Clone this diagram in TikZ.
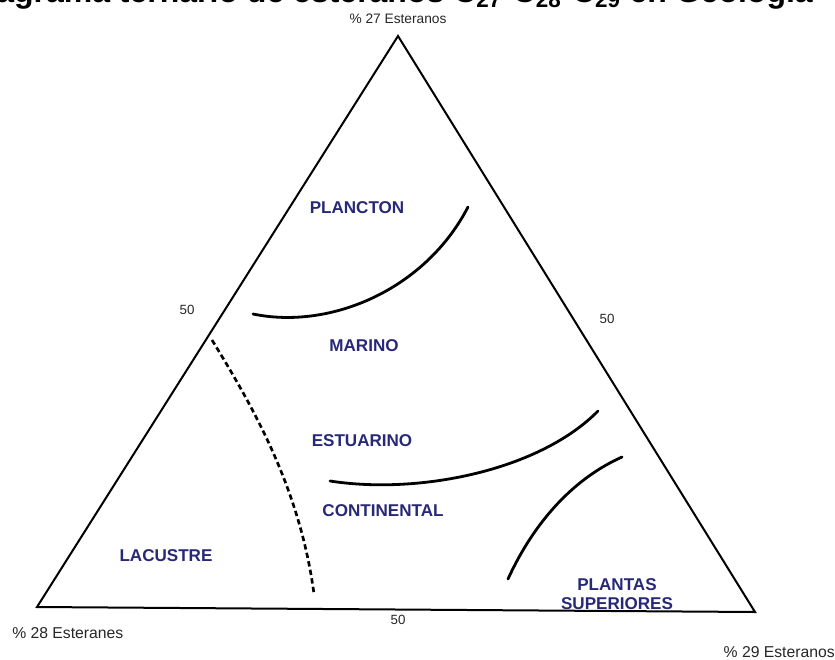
\documentclass[tikz,border=0pt]{standalone}
\usepackage{fontspec}
\setmainfont{Liberation Sans}
\definecolor{zonecol}{RGB}{40,40,120}
\begin{document}
\begin{tikzpicture}[x=0.75pt,y=-0.75pt,
  edge/.style={line width=1.5pt, line join=miter},
  bound/.style={line width=2.1pt, line cap=round},
  dashbound/.style={line width=2pt, dash pattern=on 4pt off 2.5pt},
  zone/.style={font=\bfseries\fontsize{12.8}{14}\selectfont, text=zonecol, align=center, inner sep=0pt},
  axis/.style={font=\fontsize{11.8}{13}\selectfont, text=black!85, inner sep=0pt},
  topaxis/.style={font=\fontsize{10.3}{12}\selectfont, text=black!85, inner sep=0pt},
  tick/.style={font=\fontsize{10}{11}\selectfont, text=black!85, inner sep=0pt}]
\useasboundingbox (0,0) rectangle (835,660);
\begin{scope}
\clip (0,0) rectangle (835,660);
\node[anchor=base west, inner sep=0pt, font=\bfseries\fontsize{24}{28}\selectfont] (title) at (-36,3) {Diagrama ternario de esteranos C\textsubscript{27}-C\textsubscript{28}-C\textsubscript{29} en Geología};
\end{scope}
% vertices
\coordinate (top) at (398,36);
\coordinate (bl) at (37,607);
\coordinate (br) at (755,612);
\draw[edge] (top) -- (bl) -- (br) -- cycle;
% axis labels
\node[topaxis] (c27) at (398,19) {\% 27 Esteranos};
\node[axis, anchor=west] (c28) at (12,633) {\% 28 Esteranes};
\node[axis, anchor=east] (c29) at (835,652) {\% 29 Esteranos};
\node[tick] (t1) at (187,310) {50};
\node[tick] (t2) at (607,319) {50};
\node[tick] (t3) at (398,620) {50};
% zone labels
\node[zone] (plancton) at (357,208) {PLANCTON};
\node[zone] (marino) at (364,346) {MARINO};
\node[zone] (estuarino) at (362,441) {ESTUARINO};
\node[zone] (continental) at (383,511) {CONTINENTAL};
\node[zone] (lacustre) at (166,556) {LACUSTRE};
\node[zone] (plantas) at (617,594) {PLANTAS\\[0.5pt]SUPERIORES};
% boundaries
\coordinate (p1) at (253,314);
\coordinate (p2) at (468,207);
\draw[bound] (p1) .. controls (330,330) and (425,290) .. (p2);
\coordinate (e1) at (330,481);
\coordinate (e2) at (598,411);
\draw[bound] (e1) .. controls (420,495) and (540,470) .. (e2);
\coordinate (s1) at (508,579);
\coordinate (s2) at (622,457);
\draw[bound] (s1) .. controls (535,520) and (575,478) .. (s2);
\coordinate (d1) at (212,340);
\coordinate (d2) at (314,594);
\draw[dashbound] (d1) .. controls (255,410) and (300,490) .. (d2);
\end{tikzpicture}
\end{document}
